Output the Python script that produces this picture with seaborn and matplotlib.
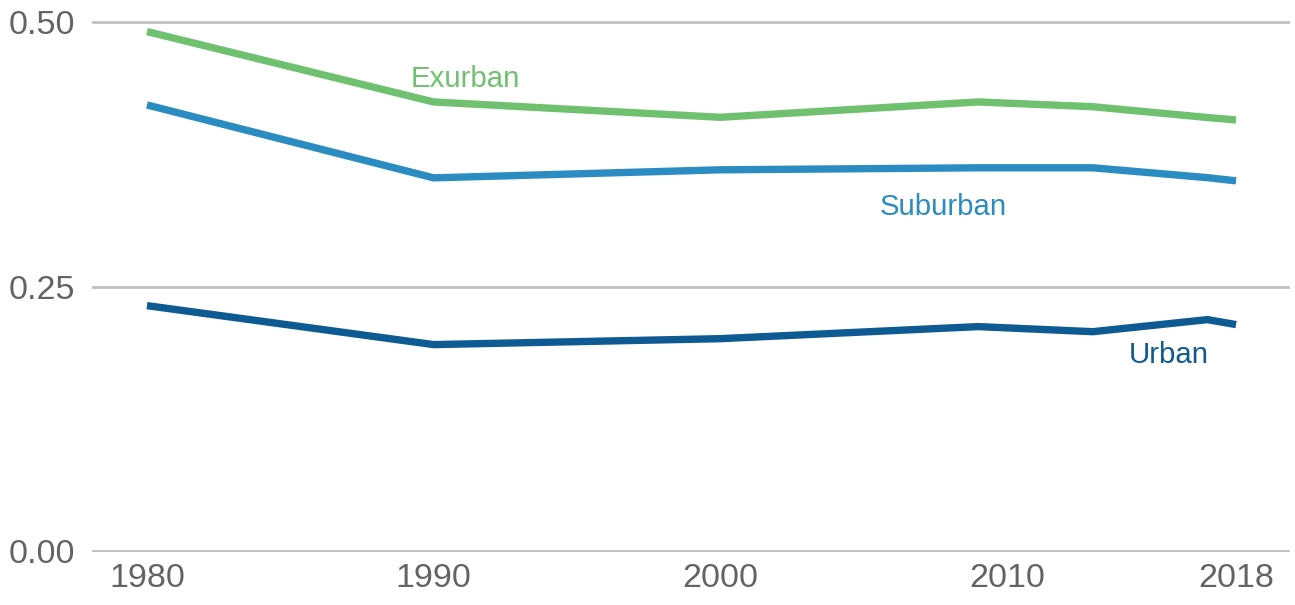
import matplotlib
matplotlib.use("Agg")
import matplotlib.pyplot as plt
import seaborn as sns
import pandas as pd

years = [1980, 1990, 2000, 2009, 2013, 2017, 2018]
exurban = [0.491, 0.4245, 0.410, 0.4245, 0.420, 0.4098, 0.4075]
suburban = [0.4217, 0.3528, 0.3604, 0.3623, 0.3623, 0.353, 0.350]
urban = [0.2321, 0.1953, 0.2009, 0.2123, 0.2075, 0.2189, 0.2142]
series_names = ["Exurban", "Suburban", "Urban"]
colors = ["#6fc16f", "#2b8cc2", "#0e5a92"]
x_ticks = [1980, 1990, 2000, 2010, 2018]
y_ticks = [0.00, 0.25, 0.50]
y_tick_labels = ["0.00", "0.25", "0.50"]

df = pd.DataFrame({
    "year": years * 3,
    "value": exurban + suburban + urban,
    "type": [n for n in series_names for _ in years],
})

sns.set_style("white")
plt.rcParams["font.family"] = ["Liberation Sans", "DejaVu Sans"]

fig = plt.figure(figsize=(12.95, 6.05), dpi=100)
ax = fig.add_axes([0.071, 0.0876, 0.9251, 0.9124])

sns.lineplot(data=df, x="year", y="value", hue="type",
             palette=dict(zip(series_names, colors)),
             linewidth=5.3, legend=False, ax=ax,
             solid_capstyle="butt", solid_joinstyle="round")

ax.set_xlim(1978.08, 2019.88)
ax.set_ylim(-0.0006, 0.5208)
ax.set_yticks(y_ticks)
ax.set_yticklabels(y_tick_labels)
ax.set_xticks(x_ticks)
ax.set_xticklabels([str(t) for t in x_ticks])
ax.tick_params(axis="both", length=0, labelsize=24.5, labelcolor="#636363")
ax.tick_params(axis="y", pad=12)
ax.tick_params(axis="x", pad=8)
ax.set_xlabel("")
ax.set_ylabel("")
for s in ax.spines.values():
    s.set_visible(False)
ax.yaxis.grid(True, color="#c0c0c0", linewidth=2)
ax.xaxis.grid(False)
ax.set_axisbelow(True)

label_pos = {"Exurban": (1989.2, 0.4387), "Suburban": (2005.55, 0.3179), "Urban": (2014.26, 0.1783)}
for name, c in zip(series_names, colors):
    x, y = label_pos[name]
    ax.text(x, y, name, color=c, fontsize=21.2, ha="left", va="baseline")

fig.savefig("out.png", dpi=100)
